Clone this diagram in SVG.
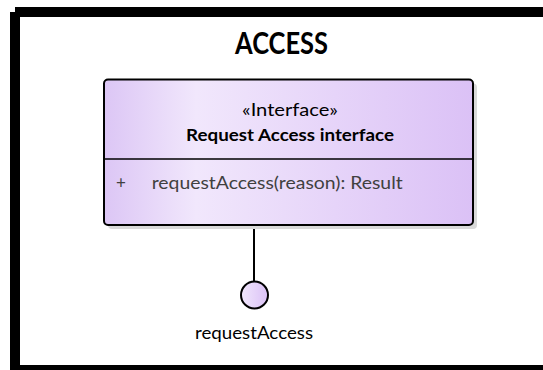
<svg xmlns="http://www.w3.org/2000/svg" width="543" height="370" viewBox="0 0 543 370">
  <style>
    .t { font-family: Lato, "Liberation Sans", sans-serif; }
    .name { font-weight: bold; fill: #000; }
    .op { fill: #404040; }
  </style>
  <defs>
    <linearGradient id="g" x1="0" y1="0" x2="1" y2="0">
      <stop offset="0" stop-color="#dcc6f5"/>
      <stop offset="0.25" stop-color="#f1e7fc"/>
      <stop offset="1" stop-color="#dbc1f6"/>
    </linearGradient>
    <linearGradient id="gc" x1="0" y1="0" x2="1" y2="0">
      <stop offset="0" stop-color="#f1e7fc"/>
      <stop offset="1" stop-color="#dbc1f6"/>
    </linearGradient>
  </defs>
  <rect width="543" height="370" fill="#fff"/>
  <g id="frame">
    <rect x="15" y="7" width="540" height="370" fill="#000"/>
    <rect x="10" y="12" width="540" height="370" fill="#000"/>
    <rect x="20" y="17" width="540" height="348" fill="#fff"/>
    <text class="t name" x="281.5" y="54" font-size="30" text-anchor="middle" textLength="93" lengthAdjust="spacingAndGlyphs">ACCESS</text>
  </g>
  <g id="connectors">
    <line x1="254" y1="225" x2="254" y2="282" stroke="#000" stroke-width="2"/>
  </g>
  <g id="interface">
    <rect x="108" y="83.5" width="369" height="145.5" rx="4" fill="#d9d9d9"/>
    <rect x="104" y="79.5" width="369" height="145.5" rx="4" fill="url(#g)" stroke="#000" stroke-width="2"/>
    <line x1="104" y1="159" x2="473" y2="159" stroke="#000" stroke-width="1.5"/>
    <text class="t" x="290" y="115.5" font-size="17" text-anchor="middle" textLength="96" lengthAdjust="spacingAndGlyphs" fill="#000">«Interface»</text>
    <text class="t name" x="290" y="141" font-size="17" text-anchor="middle" textLength="208" lengthAdjust="spacingAndGlyphs">Request Access interface</text>
    <text class="t op" x="116" y="189.3" font-size="17">+</text>
    <text class="t op" x="151.7" y="189.3" font-size="17" textLength="251" lengthAdjust="spacingAndGlyphs">requestAccess(reason): Result</text>
  </g>
  <g id="port">
    <circle cx="254.5" cy="295" r="13.5" fill="url(#gc)" stroke="#000" stroke-width="2"/>
    <text class="t" x="254" y="339.3" font-size="17" text-anchor="middle" textLength="118" lengthAdjust="spacingAndGlyphs" fill="#000">requestAccess</text>
  </g>
</svg>
